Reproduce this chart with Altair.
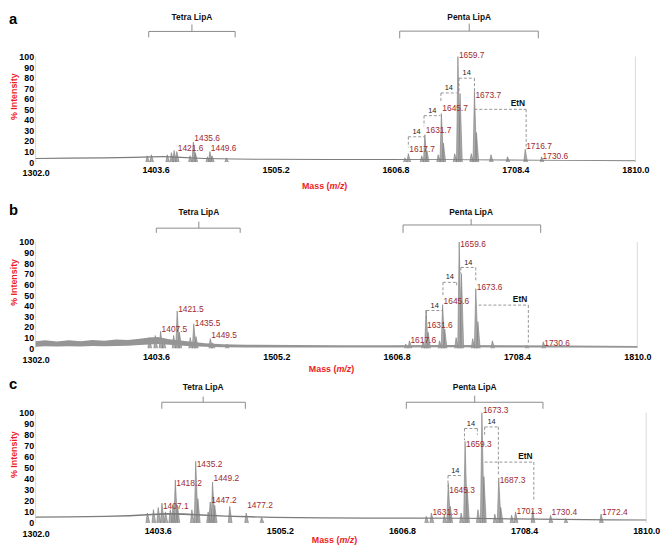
import altair as alt
import pandas as pd

FONT = "Liberation Sans"
LABEL_RED = "#9e2b2f"
TITLE_RED = "#ec1c24"
DASH_GREY = "#8a8a8a"
BRACKET_GREY = "#8a8a8a"
FRAME_GREY = "#d9d9d9"
PEAK_FILL = "#ababab"
PEAK_EDGE = "#7a7a7a"

X_TICKS = [1302.0, 1403.6, 1505.2, 1606.8, 1708.4, 1810.0]
Y_TICKS = [0, 10, 20, 30, 40, 50, 60, 70, 80, 90, 100]

# ---------------- panel a ----------------
A_PEAK_MZ = [1396.5, 1400.0, 1413.5, 1417.0, 1419.3, 1421.6, 1432.8, 1435.6, 1437.3, 1447.5, 1449.6, 1451.4, 1463.5,
             1614.8, 1617.7, 1629.0, 1631.7, 1633.4, 1643.0, 1645.7, 1647.4, 1657.0, 1659.7, 1661.5, 1671.0,
             1673.7, 1675.4, 1687.7, 1701.7, 1716.7, 1730.6]
A_PEAK_H = [6, 7, 7, 9, 11, 10, 6, 19, 9, 5, 10, 6, 4,
            4, 8, 6, 26, 11, 7, 46, 18, 8, 100, 65, 8, 67, 28, 7, 5, 12, 5]
A_NOISE_MZ = [1302, 1330, 1360, 1385, 1400, 1410, 1425, 1445, 1470, 1500, 1550, 1600, 1650, 1700, 1750, 1810]
A_NOISE_LO = [3.0, 3.2, 3.5, 4.0, 4.4, 4.6, 3.9, 3.0, 2.4, 2.2, 2.1, 2.0, 1.9, 1.6, 1.2, 0.9]
A_NOISE_HI = [4.0, 4.3, 4.6, 5.1, 5.6, 5.8, 5.0, 4.0, 3.3, 3.1, 3.0, 2.9, 2.8, 2.5, 2.1, 1.8]
A_LABEL_MZ = [1421.6, 1435.6, 1449.6, 1617.7, 1631.7, 1645.7, 1659.7, 1673.7, 1716.7, 1730.6]
A_LABEL_V = [12.9, 22.9, 12.9, 12.0, 30.6, 51.6, 101.0, 64.0, 15.0, 5.8]
A_BOX_X1 = [1617.7, 1631.0, 1645.3, 1660.6]
A_BOX_X2 = [1631.7, 1645.0, 1658.6, 1673.7]
A_BOX_TOP = [24.0, 44.0, 65.5, 79.5]
A_BOX_LEND = [14.0, 34.0, 57.0, 67.0]
A_BOX_REND = [24.0, 44.0, 65.5, 67.0]
A_ETN = [1673.7, 1717.5, 50.0, 12.0]            # x1, x2, top, right end
A_TETRA = [1397.8, 1471.0, 1434.4, 123.8, 118.2, 130.4, 137.5]  # x1, x2, xm, h, end, notch, label
A_PENTA = [1610.4, 1727.8, 1669.3, 124.1, 117.3, 131.3, 137.5]

# ---------------- panel b ----------------
B_PEAK_MZ = [1398.0, 1403.0, 1407.5, 1410.0, 1418.5, 1421.5, 1423.4, 1432.5, 1435.5, 1437.4, 1449.5, 1451.5, 1463.5,
             1614.5, 1617.6, 1629.0, 1631.6, 1633.4, 1643.0, 1645.6, 1647.4, 1657.0, 1659.6, 1661.5, 1671.0,
             1673.6, 1675.4, 1687.6, 1716.6, 1730.6]
B_PEAK_H = [10, 12, 16, 9, 12, 35, 15, 10, 23, 11, 9, 5, 4,
            4, 7, 6, 36, 15, 7, 41, 18, 10, 100, 70, 9, 56, 25, 7, 3, 6]
B_NOISE_MZ = [1302, 1310, 1320, 1330, 1340, 1350, 1360, 1370, 1380, 1390, 1398, 1405, 1415, 1430, 1445,
              1460, 1480, 1520, 1560, 1600, 1650, 1700, 1750, 1810]
B_NOISE_LO = [1.5, 1.8, 1.6, 1.9, 1.6, 2.0, 1.8, 2.2, 2.4, 3.0, 3.6, 4.0, 3.2, 2.2, 1.4,
              1.0, 0.8, 0.8, 0.7, 0.7, 0.9, 0.7, 0.6, 0.5]
B_NOISE_HI = [6.5, 7.5, 6.3, 7.6, 6.6, 7.8, 7.0, 8.2, 7.8, 9.0, 10.0, 10.5, 8.5, 6.5, 4.8,
              3.8, 3.3, 3.0, 2.8, 2.8, 3.1, 2.8, 2.5, 2.2]
B_LABEL_MZ = [1407.5, 1421.5, 1435.5, 1449.5, 1617.6, 1631.6, 1645.6, 1659.6, 1673.6, 1730.6]
B_LABEL_V = [18.0, 37.0, 24.0, 12.7, 7.5, 21.7, 44.0, 98.5, 58.0, 4.6]
B_BOX_X1 = [1632.0, 1645.9, 1661.0]
B_BOX_X2 = [1645.9, 1657.5, 1673.6]
B_BOX_TOP = [35.5, 62.0, 76.0]
B_BOX_LEND = [26.0, 49.0, 70.0]
B_BOX_REND = [35.5, 58.0, 63.0]
B_ETN = [1676.0, 1718.0, 40.6, 4.0]
B_TETRA = [1403.9, 1474.7, 1439.8, 113.0, 108.6, 119.2, 128.5]
B_PENTA = [1612.2, 1728.4, 1669.7, 116.0, 108.6, 121.6, 128.5]

# ---------------- panel c ----------------
C_PEAK_MZ = [1395.0, 1400.0, 1404.0, 1407.1, 1410.0, 1414.0, 1416.2, 1418.2, 1420.0, 1432.0, 1435.2, 1437.0,
             1445.5, 1447.2, 1449.2, 1451.0, 1463.5, 1477.2, 1490.0,
             1627.0, 1631.3, 1642.0, 1645.3, 1647.0, 1656.0, 1659.3, 1661.0, 1670.0, 1673.3, 1675.0, 1684.0,
             1687.3, 1689.0, 1698.0, 1701.3, 1715.5, 1730.4, 1743.0, 1772.4]
C_PEAK_H = [9, 12, 14, 18, 10, 12, 16, 39, 16, 12, 56, 22, 10, 19, 37, 16, 15, 9, 5,
            6, 9, 7, 36, 15, 9, 74, 32, 12, 100, 42, 8, 41, 14, 7, 10, 11, 7, 4, 8]
C_NOISE_MZ = [1302, 1330, 1360, 1380, 1395, 1410, 1425, 1440, 1460, 1480, 1500, 1540, 1580, 1620, 1660, 1700, 1740, 1780, 1810]
C_NOISE_LO = [4.8, 4.9, 5.3, 5.9, 6.8, 7.5, 7.3, 6.5, 5.5, 4.9, 4.5, 4.1, 3.9, 3.8, 3.7, 3.1, 2.7, 2.3, 2.1]
C_NOISE_HI = [5.9, 6.1, 6.5, 7.2, 8.2, 9.0, 8.8, 7.8, 6.8, 6.2, 5.7, 5.2, 4.9, 4.9, 4.8, 4.2, 3.7, 3.3, 3.1]
C_LABEL_MZ = [1407.1, 1418.2, 1435.2, 1447.2, 1449.2, 1477.2, 1631.3, 1645.3, 1659.3, 1673.3, 1687.3, 1701.3, 1730.4, 1772.4]
C_LABEL_V = [15.5, 35.8, 53.4, 20.9, 40.3, 16.0, 9.6, 29.5, 72.0, 102.0, 39.0, 11.0, 9.6, 9.6]
C_BOX_X1 = [1645.1, 1658.8, 1675.6]
C_BOX_X2 = [1657.3, 1669.5, 1687.0]
C_BOX_TOP = [43.0, 85.7, 87.1]
C_BOX_LEND = [33.0, 75.0, 80.0]
C_BOX_REND = [43.0, 80.0, 43.0]
C_ETN = [1675.6, 1716.5, 55.2, 20.0]
C_TETRA = [1407.0, 1476.5, 1441.4, 109.5, 103.6, 114.6, 122.9]
C_PENTA = [1610.4, 1724.1, 1667.3, 109.5, 103.6, 115.5, 122.9]


def panel(letter, width, height, ytop, peak_mz, peak_h, noise_mz, noise_lo, noise_hi, noise_color,
          lab_mz, lab_v, bx1, bx2, btop, blend, brend, etn, tetra, penta,
          letter_v, mass_cx, mass_dy):
    xs = alt.Scale(domain=[1302.0, 1810.0], nice=False, zero=False)
    ys = alt.Scale(domain=[0, ytop], nice=False, zero=True)
    xenc = alt.X("mz:Q", scale=xs, axis=alt.Axis(
        values=X_TICKS, format=".1f", title=None, grid=False, domain=False, ticks=False,
        labelPadding={"condition": {"test": "datum.value == 1302", "value": 7}, "value": 4},
        labelFont=FONT, labelFontSize=9, labelFontWeight="bold",
        labelColor="#000000", labelFlush=False, labelOverlap=False))
    yenc = alt.Y("v:Q", stack=False, scale=ys, axis=alt.Axis(
        values=Y_TICKS, title=None, grid=False, domain=False, ticks=False,
        labelPadding=2, labelFont=FONT, labelFontSize=9, labelFontWeight="bold",
        labelColor="#000000", labelOverlap=False))
    x2 = alt.X2("mz2:Q")
    y2 = alt.Y2("v2:Q")

    # peaks as narrow triangles
    prow = []
    for i, (m, h) in enumerate(zip(peak_mz, peak_h)):
        prow += [{"pk": i, "mz": m - 1.2, "v": 0},
                 {"pk": i, "mz": m, "v": h},
                 {"pk": i, "mz": m + 1.9, "v": 0}]
    peak_df = pd.DataFrame(prow)
    noise_df = pd.DataFrame({"mz": noise_mz, "v": noise_lo, "v2": noise_hi})
    frame_df = pd.DataFrame({"mz": [1302.0, 1810.0], "mz2": [1302.0, 1810.0],
                             "v": [0, 0], "v2": [100, 100]})

    # dashed boxes
    srow = []
    for a1, a2, t, l, r in zip(bx1, bx2, btop, blend, brend):
        srow.append({"mz": a1, "mz2": a2, "v": t, "v2": t})
        if l < t:
            srow.append({"mz": a1, "mz2": a1, "v": t, "v2": l})
        if r < t:
            srow.append({"mz": a2, "mz2": a2, "v": t, "v2": r})
    e1, e2, et, er = etn
    srow.append({"mz": e1, "mz2": e2, "v": et, "v2": et})
    srow.append({"mz": e2, "mz2": e2, "v": et, "v2": er})
    dash_df = pd.DataFrame(srow)

    # brackets
    brow = []
    for b in (tetra, penta):
        b1, b2, bm, bh, be, bn, _ = b
        brow += [{"mz": b1, "mz2": b2, "v": bh, "v2": bh},
                 {"mz": b1, "mz2": b1, "v": bh, "v2": be},
                 {"mz": b2, "mz2": b2, "v": bh, "v2": be},
                 {"mz": bm, "mz2": bm, "v": bh, "v2": bn}]
    br_df = pd.DataFrame(brow)
    brl_df = pd.DataFrame({"mz": [tetra[2], penta[2]], "v": [tetra[6], penta[6]],
                           "txt": ["Tetra LipA", "Penta LipA"]})

    lab_df = pd.DataFrame({"mz": lab_mz, "v": lab_v, "txt": [f"{m:.1f}" for m in lab_mz]})
    d14_df = pd.DataFrame({"mz": [(a + b) / 2 for a, b in zip(bx1, bx2)], "v": btop,
                           "txt": ["14"] * len(bx1)})
    etn_df = pd.DataFrame({"mz": [e2 - 7.0], "v": [et], "txt": ["EtN"]})

    layers = [
        alt.Chart(frame_df).mark_rule(color=FRAME_GREY, strokeWidth=1).encode(x=xenc, x2=x2, y=yenc, y2=y2),
        alt.Chart(peak_df).mark_area(color=PEAK_FILL, opacity=1).encode(x=xenc, y=yenc, detail="pk:N"),
        alt.Chart(peak_df).mark_line(color=PEAK_EDGE, strokeWidth=0.6).encode(x=xenc, y=yenc, detail="pk:N"),
        alt.Chart(noise_df).mark_area(color=noise_color, opacity=1).encode(x=xenc, y=yenc, y2=y2),
        alt.Chart(dash_df).mark_rule(color=DASH_GREY, strokeWidth=0.9, strokeDash=[3, 2]).encode(
            x=xenc, x2=x2, y=yenc, y2=y2),
        alt.Chart(br_df).mark_rule(color=BRACKET_GREY, strokeWidth=1).encode(x=xenc, x2=x2, y=yenc, y2=y2),
        alt.Chart(brl_df).mark_text(align="center", baseline="middle", font=FONT, fontSize=8.5,
                                    fontWeight="bold", color="#111111").encode(x=xenc, y=yenc, text="txt:N"),
        alt.Chart(lab_df).mark_text(align="left", baseline="middle", dx=1, font=FONT, fontSize=8.5,
                                    color=LABEL_RED).encode(x=xenc, y=yenc, text="txt:N"),
        alt.Chart(d14_df).mark_text(align="center", baseline="bottom", dy=-1, font=FONT, fontSize=7.5,
                                    color="#222222").encode(x=xenc, y=yenc, text="txt:N"),
        alt.Chart(etn_df).mark_text(align="center", baseline="bottom", dy=-1, font=FONT, fontSize=8.5,
                                    fontWeight="bold", color="#111111").encode(x=xenc, y=yenc, text="txt:N"),
        alt.Chart(pd.DataFrame({"v": [62]})).mark_text(
            angle=270, align="center", baseline="middle", font=FONT, fontSize=9, fontWeight="bold",
            color=TITLE_RED, text="% Intensity").encode(x=alt.value(-22), y=yenc),
        alt.Chart(pd.DataFrame({"v": [letter_v]})).mark_text(
            align="left", baseline="alphabetic", font=FONT, fontSize=15, fontWeight="bold",
            color="#000000", text=letter).encode(x=alt.value(-27), y=yenc),
        alt.Chart(pd.DataFrame({"k": [0]})).mark_text(
            align="left", baseline="middle", font=FONT, fontSize=9, fontWeight="bold",
            color=TITLE_RED, text="Mass (").encode(x=alt.value(mass_cx - 23), y=alt.value(height + mass_dy)),
        alt.Chart(pd.DataFrame({"k": [0]})).mark_text(
            align="left", baseline="middle", font=FONT, fontSize=9, fontWeight="bold", fontStyle="italic",
            color=TITLE_RED, text="m/z").encode(x=alt.value(mass_cx + 5), y=alt.value(height + mass_dy)),
        alt.Chart(pd.DataFrame({"k": [0]})).mark_text(
            align="left", baseline="middle", font=FONT, fontSize=9, fontWeight="bold",
            color=TITLE_RED, text=")").encode(x=alt.value(mass_cx + 20), y=alt.value(height + mass_dy)),
    ]
    return alt.layer(*layers).properties(width=width, height=height)


pa = panel("a", 608, 151.5, 141.6, A_PEAK_MZ, A_PEAK_H, A_NOISE_MZ, A_NOISE_LO, A_NOISE_HI, "#7c7c7c",
           A_LABEL_MZ, A_LABEL_V, A_BOX_X1, A_BOX_X2, A_BOX_TOP, A_BOX_LEND, A_BOX_REND,
           A_ETN, A_TETRA, A_PENTA, 130.5, 293, 24.5)
pb = panel("b", 610, 188.2, 174.7, B_PEAK_MZ, B_PEAK_H, B_NOISE_MZ, B_NOISE_LO, B_NOISE_HI, "#959595",
           B_LABEL_MZ, B_LABEL_V, B_BOX_X1, B_BOX_X2, B_BOX_TOP, B_BOX_LEND, B_BOX_REND,
           B_ETN, B_TETRA, B_PENTA, 125.0, 300, 21.3)
pc = panel("c", 619, 176.3, 157.8, C_PEAK_MZ, C_PEAK_H, C_NOISE_MZ, C_NOISE_LO, C_NOISE_HI, "#7c7c7c",
           C_LABEL_MZ, C_LABEL_V, C_BOX_X1, C_BOX_X2, C_BOX_TOP, C_BOX_LEND, C_BOX_REND,
           C_ETN, C_TETRA, C_PENTA, 121.3, 303, 17.0)

chart = alt.vconcat(pa, pb, pc, spacing=0, bounds="flush").properties(
    padding=0
).configure_view(stroke="transparent")

chart.save("out.html", embed_options={"renderer": "svg", "actions": False})
